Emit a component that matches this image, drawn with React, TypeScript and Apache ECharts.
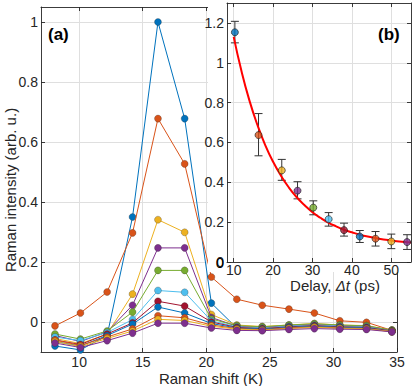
import React, { useEffect, useRef } from "react";
import * as echarts from "echarts";

// ---- Main panel (a): Raman spectra ----
const ramanShift = [8.1, 10.1, 12.2, 14.2, 16.2, 18.3, 20.4, 22.4, 24.4, 26.5, 28.5, 30.5, 32.6, 34.6];
const spectrum1 = [-0.08, -0.093, -0.045, 0.35, 1.0, 0.678, 0.063, -0.02, -0.025, -0.02, -0.015, -0.02, -0.02, -0.03];
const spectrum2 = [-0.013, 0.03, 0.1, 0.297, 0.678, 0.527, 0.15, 0.076, 0.056, 0.043, 0.03, 0.004, -0.001, -0.028];
const spectrum3 = [-0.055, -0.072, -0.04, 0.093, 0.341, 0.299, 0.025, -0.01, -0.015, -0.01, -0.005, -0.01, -0.012, -0.027];
const spectrum4 = [-0.045, -0.065, -0.033, 0.056, 0.247, 0.247, 0.015, -0.014, -0.018, -0.012, -0.008, -0.012, -0.014, -0.028];
const spectrum5 = [-0.04, -0.057, -0.03, 0.033, 0.172, 0.172, 0.01, -0.012, -0.016, -0.01, -0.006, -0.01, -0.013, -0.027];
const spectrum6 = [-0.05, -0.062, -0.035, 0.008, 0.105, 0.099, 0.004, -0.016, -0.02, -0.014, -0.01, -0.014, -0.016, -0.03];
const spectrum7 = [-0.06, -0.075, -0.04, -0.003, 0.069, 0.053, 0.0, -0.018, -0.022, -0.016, -0.012, -0.016, -0.018, -0.03];
const spectrum8 = [-0.065, -0.08, -0.045, -0.007, 0.05, 0.03, -0.005, -0.02, -0.024, -0.018, -0.014, -0.018, -0.02, -0.032];
const spectrum9 = [-0.06, -0.078, -0.05, -0.023, 0.021, 0.014, -0.01, -0.022, -0.026, -0.02, -0.016, -0.02, -0.022, -0.032];
const spectrum10 = [-0.065, -0.082, -0.055, -0.03, 0.009, 0.005, -0.014, -0.024, -0.027, -0.022, -0.018, -0.021, -0.023, -0.032];
const spectrum11 = [-0.07, -0.085, -0.062, -0.037, -0.004, -0.004, -0.02, -0.028, -0.029, -0.025, -0.022, -0.024, -0.025, -0.033];
const spectra = [spectrum1, spectrum2, spectrum3, spectrum4, spectrum5, spectrum6, spectrum7, spectrum8, spectrum9, spectrum10, spectrum11];
const seriesColors = ["#0072BD", "#D95319", "#EDB120", "#7E2F8E", "#77AC30", "#4DBEEE", "#A2142F", "#0072BD", "#D95319", "#EDB120", "#7E2F8E"];

const mainXTicks = [10, 15, 20, 25, 30, 35];
const mainYTicks = [0, 0.2, 0.4, 0.6, 0.8, 1];

// ---- Inset (b): peak intensity vs delay ----
const delays = [10.3, 16.3, 22.2, 26.2, 30.2, 34.1, 38, 42, 46, 50, 54];
const peakIntensity = [1.153, 0.637, 0.46, 0.358, 0.273, 0.215, 0.16, 0.128, 0.117, 0.103, 0.1];
const errLow = [1.1, 0.533, 0.41, 0.317, 0.237, 0.18, 0.13, 0.098, 0.08, 0.067, 0.063];
const errHigh = [1.208, 0.745, 0.515, 0.403, 0.307, 0.248, 0.195, 0.158, 0.153, 0.14, 0.137];
const fitDelay = [10, 12, 14, 16, 18, 20, 22, 24, 26, 28, 30, 32, 34, 36, 38, 40, 42, 44, 46, 48, 50, 52, 55];
const fitIntensity = [1.13, 0.956, 0.81, 0.689, 0.587, 0.503, 0.433, 0.374, 0.325, 0.285, 0.25, 0.222, 0.198, 0.179, 0.162, 0.149, 0.137, 0.128, 0.12, 0.113, 0.108, 0.103, 0.098];

const insetXTicks = [10, 20, 30, 40, 50];
const insetYTicks = [0, 0.2, 0.4, 0.6, 0.8, 1, 1.2];

const FONT = "Liberation Sans, Arial, Helvetica, sans-serif";
const AX = "#262626";
const GRIDC = "#dfdfdf";

function frameAxis(extra: any, ticks: number[], showLabel: boolean, fontSize = 14, margin = 4) {
  return {
    type: "value",
    axisLine: { show: true, onZero: false, lineStyle: { color: AX, width: 0.9 } },
    axisTick: { show: true, inside: true, length: 4, customValues: ticks, lineStyle: { color: AX, width: 0.9 } },
    axisLabel: {
      show: showLabel,
      customValues: ticks,
      showMinLabel: true,
      showMaxLabel: true,
      hideOverlap: false,
      color: AX,
      fontFamily: FONT,
      fontSize,
      margin,
    },
    splitLine: { show: showLabel, lineStyle: { color: GRIDC, width: 1 } },
    ...extra,
  };
}

export default function App() {
  const ref = useRef<HTMLDivElement>(null);
  useEffect(() => {
    if (!ref.current) return;
    const chart = echarts.init(ref.current, null, { renderer: "svg" });

    const mainSeries = spectra.map((vals, i) => ({
      type: "line",
      xAxisIndex: 0,
      yAxisIndex: 0,
      data: ramanShift.map((x, j) => [x, vals[j]]),
      symbol: "circle",
      symbolSize: 7,
      showSymbol: true,
      lineStyle: { color: seriesColors[i], width: 1 },
      itemStyle: { color: seriesColors[i], borderColor: "rgba(40,40,40,0.55)", borderWidth: 0.5 },
      z: 2 + i * 0.01,
      silent: true,
    }));

    const option: any = {
      animation: false,
      backgroundColor: "#ffffff",
      grid: [
        { left: 41, top: 7, width: 356, height: 345 },
        { left: 227, top: 3, width: 184, height: 259 },
      ],
      xAxis: [
        frameAxis({ gridIndex: 0, min: 7, max: 35, position: "bottom", z: 0 }, mainXTicks, true, 14, 3),
        frameAxis({ gridIndex: 0, min: 7, max: 35, position: "top", z: 0 }, mainXTicks, false),
        frameAxis({ gridIndex: 1, min: 8.3, max: 55, position: "bottom", z: 60 }, insetXTicks, true, 14, 1),
        frameAxis({ gridIndex: 1, min: 8.3, max: 55, position: "top", z: 60 }, insetXTicks, false),
      ],
      yAxis: [
        frameAxis({ gridIndex: 0, min: -0.1, max: 1.05, position: "left", z: 0 }, mainYTicks, true, 14, 3),
        frameAxis({ gridIndex: 0, min: -0.1, max: 1.05, position: "right", z: 0 }, mainYTicks, false),
        frameAxis({ gridIndex: 1, min: 0, max: 1.3, position: "left", z: 60 }, insetYTicks, true, 14, 3),
        frameAxis({ gridIndex: 1, min: 0, max: 1.3, position: "right", z: 60 }, insetYTicks, false),
      ],
      series: [
        ...mainSeries,
        {
          type: "custom",
          xAxisIndex: 2,
          yAxisIndex: 2,
          z: 61,
          silent: true,
          encode: { x: 0, y: [1, 2] },
          data: delays.map((d, i) => [d, errLow[i], errHigh[i]]),
          renderItem: (params: any, api: any) => {
            const x = api.value(0);
            const top = api.coord([x, api.value(2)]);
            const bot = api.coord([x, api.value(1)]);
            const w = 4;
            const style = { stroke: "#333333", lineWidth: 1 };
            return {
              type: "group",
              children: [
                { type: "line", shape: { x1: top[0], y1: top[1], x2: bot[0], y2: bot[1] }, style },
                { type: "line", shape: { x1: top[0] - w, y1: top[1], x2: top[0] + w, y2: top[1] }, style },
                { type: "line", shape: { x1: bot[0] - w, y1: bot[1], x2: bot[0] + w, y2: bot[1] }, style },
              ],
            };
          },
        },
        {
          type: "line",
          xAxisIndex: 2,
          yAxisIndex: 2,
          z: 62,
          silent: true,
          data: fitDelay.map((d, i) => [d, fitIntensity[i]]),
          smooth: true,
          showSymbol: false,
          symbol: "none",
          clip: true,
          lineStyle: { color: "#FF0000", width: 2 },
        },
        {
          type: "scatter",
          xAxisIndex: 2,
          yAxisIndex: 2,
          z: 63,
          silent: true,
          symbol: "circle",
          symbolSize: 7,
          data: delays.map((d, i) => ({
            value: [d, peakIntensity[i]],
            itemStyle: { color: seriesColors[i], borderColor: "#1a1a1a", borderWidth: 0.8 },
          })),
        },
      ],
      graphic: {
        elements: [
          {
            type: "rect",
            id: "insetBg",
            z: 55,
            silent: true,
            shape: { x: 208, y: 0, width: 207, height: 272 },
            style: { fill: "#ffffff" },
          },
          {
            type: "text",
            id: "insetZero",
            z: 80,
            x: 224,
            y: 262,
            style: {
              text: "0",
              font: `15px ${FONT}`,
              fill: "#000000",
              align: "right",
              verticalAlign: "middle",
            },
          },
          {
            type: "text",
            id: "labelA",
            z: 70,
            x: 48,
            y: 26,
            style: { text: "(a)", font: `bold 17px ${FONT}`, fill: "#000000" },
          },
          {
            type: "text",
            id: "labelB",
            z: 70,
            x: 378,
            y: 26,
            style: { text: "(b)", font: `bold 17px ${FONT}`, fill: "#000000" },
          },
          {
            type: "text",
            id: "yName",
            z: 70,
            x: 10,
            y: 190,
            rotation: Math.PI / 2,
            style: {
              text: "Raman intensity (arb. u.)",
              font: `15px ${FONT}`,
              fill: AX,
              align: "center",
              verticalAlign: "middle",
            },
          },
          {
            type: "text",
            id: "xName",
            z: 70,
            x: 211,
            y: 378,
            style: {
              text: "Raman shift (K)",
              font: `15px ${FONT}`,
              fill: AX,
              align: "center",
              verticalAlign: "middle",
            },
          },
          {
            type: "text",
            id: "insetXName",
            z: 70,
            x: 335,
            y: 285.5,
            style: {
              text: "{n|Delay, }{i|Δt}{n| (ps)}",
              align: "center",
              verticalAlign: "middle",
              rich: {
                n: { fontFamily: FONT, fontSize: 15, fill: AX, color: AX },
                i: { fontFamily: FONT, fontSize: 15, fontStyle: "italic", fill: AX, color: AX },
              },
            },
          },
        ],
      },
    };
    chart.setOption(option);
    return () => chart.dispose();
  }, []);

  return (
    <div
      ref={ref}
      style={{ position: "absolute", left: 0, top: 0, width: 415, height: 386, background: "#fff" }}
    />
  );
}
